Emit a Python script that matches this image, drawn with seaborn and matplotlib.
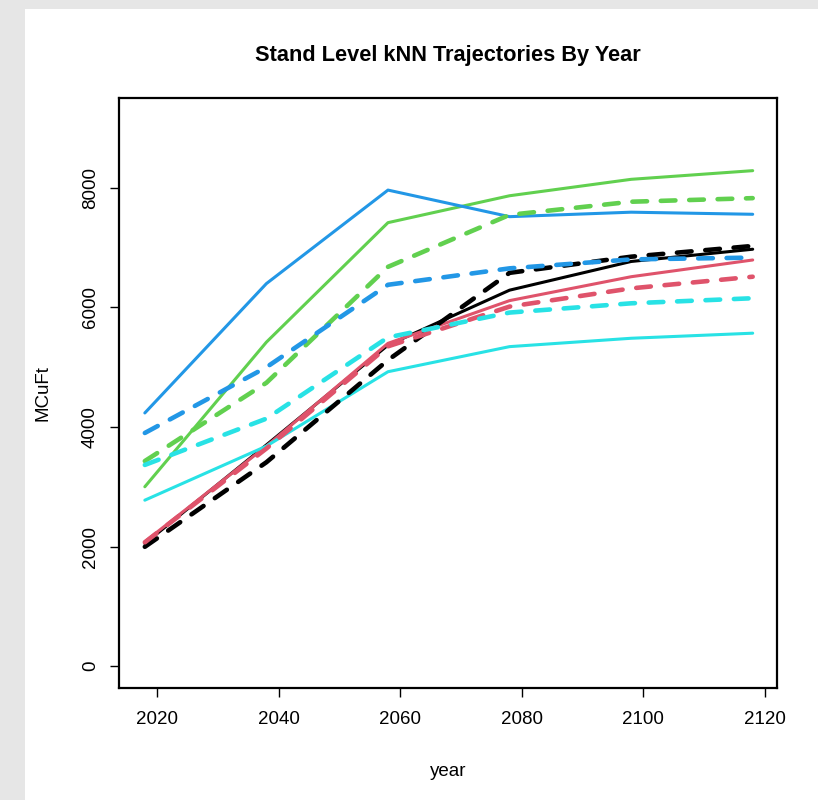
import matplotlib
matplotlib.use("Agg")
import matplotlib.pyplot as plt
from matplotlib.patches import Rectangle
import pandas as pd
import seaborn as sns

# Data
years = [2018, 2038, 2058, 2078, 2098, 2118]

black_solid = [2050, 3700, 5370, 6290, 6770, 6975]
red_solid = [2080, 3680, 5400, 6115, 6515, 6795]
green_solid = [3000, 5420, 7420, 7870, 8145, 8290]
blue_solid = [4235, 6400, 7965, 7520, 7595, 7560]
cyan_solid = [2775, 3680, 4925, 5345, 5485, 5570]

black_dashed = [1995, 3410, 5120, 6580, 6850, 7030]
red_dashed = [2070, 3640, 5350, 6015, 6320, 6515]
green_dashed = [3430, 4740, 6680, 7550, 7770, 7830]
blue_dashed = [3900, 5000, 6380, 6655, 6805, 6835]
cyan_dashed = [3365, 4140, 5500, 5915, 6070, 6155]

colors = ["#000000", "#DF536B", "#61D04F", "#2297E6", "#28E2E5"]
solid_series = [black_solid, red_solid, green_solid, blue_solid, cyan_solid]
dashed_series = [black_dashed, red_dashed, green_dashed, blue_dashed, cyan_dashed]

sns.set_style("ticks")
plt.rcParams['font.family'] = ['Liberation Sans', 'DejaVu Sans']
plt.rcParams['text.color'] = 'black'
plt.rcParams['axes.labelcolor'] = 'black'
plt.rcParams['xtick.color'] = 'black'
plt.rcParams['ytick.color'] = 'black'

fig = plt.figure(figsize=(8.18, 8.0), dpi=100)
fig.patch.set_facecolor("#e6e6e6")
# white page area, gray strip on the left and top
fig.patches.append(Rectangle((25 / 818, 0), 1, (800 - 9) / 800, transform=fig.transFigure,
                             facecolor="white", edgecolor="none", zorder=-10))
ax = fig.add_axes([119 / 818, 112 / 800, (777 - 119) / 818, (688 - 98) / 800])
ax.set_facecolor("white")

# solid lines first, then dashed
for vals, c in zip(solid_series, colors):
    df = pd.DataFrame({'year': years, 'MCuFt': vals})
    sns.lineplot(data=df, x='year', y='MCuFt', color=c, linewidth=2.2, ax=ax,
                 solid_capstyle='round', solid_joinstyle='round')
for vals, c in zip(dashed_series, colors):
    df = pd.DataFrame({'year': years, 'MCuFt': vals})
    sns.lineplot(data=df, x='year', y='MCuFt', color=c, linewidth=3.3, ax=ax,
                 dashes=False, linestyle=(0, (3.2, 3.0)), dash_capstyle='round')

ax.set_xlim(2013.75, 2122)
ax.set_ylim(-368, 9506)
ax.set_xticks([2020, 2040, 2060, 2080, 2100, 2120])
ax.set_yticks([0, 2000, 4000, 6000, 8000])

for side in ['left', 'right', 'top', 'bottom']:
    ax.spines[side].set_visible(True)
    ax.spines[side].set_linewidth(1.6)
    ax.spines[side].set_color("black")

ax.tick_params(axis='both', length=6.5, width=1.0, color='black', labelcolor='black',
               labelsize=13.5, direction='out')
ax.tick_params(axis='x', pad=10)
ax.tick_params(axis='y', pad=8, labelrotation=90)
for lab in ax.get_yticklabels():
    lab.set_va('center')

ax.set_title('Stand Level kNN Trajectories By Year', fontsize=15.7, fontweight='bold', pad=27)
ax.set_xlabel('year', fontsize=13.5, labelpad=25)
ax.set_ylabel('MCuFt', fontsize=13.5, labelpad=22)

fig.savefig("out.png", dpi=100, facecolor=fig.get_facecolor())
